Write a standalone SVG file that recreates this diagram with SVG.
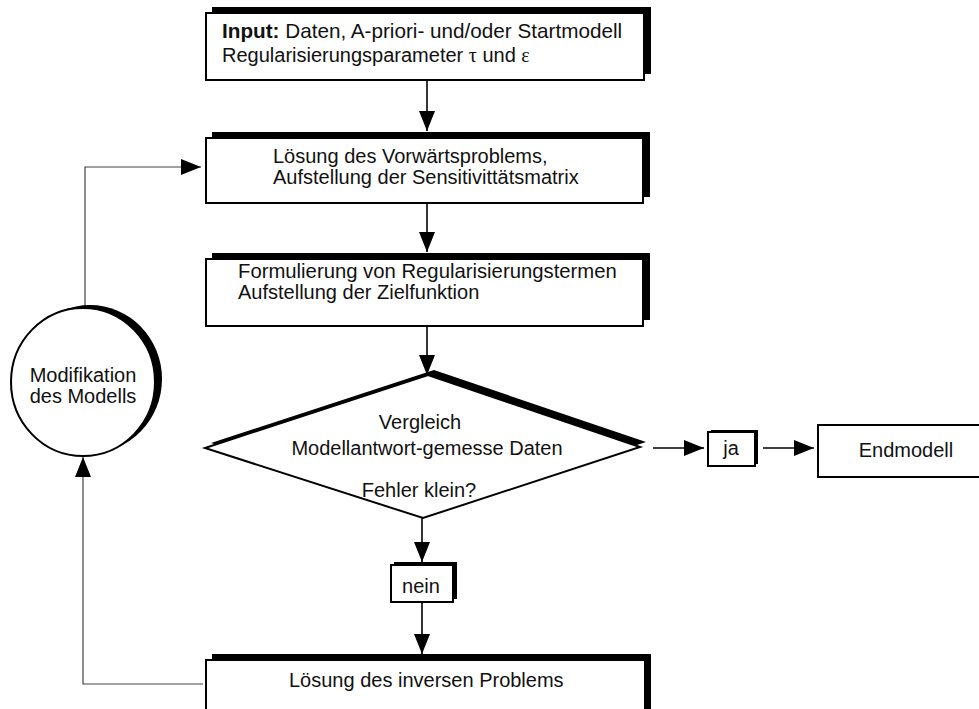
<svg xmlns="http://www.w3.org/2000/svg" width="979" height="709" viewBox="0 0 979 709">
<defs>
<style>
.box{fill:#fff;stroke:#000;stroke-width:2}
.sh{fill:#000}
.t{font-family:"Liberation Sans",Arial,sans-serif;font-size:20px;fill:#111}
.c{text-anchor:middle}
.g{font-family:"Liberation Serif","Times New Roman",serif}
.ar{stroke:#000;stroke-width:1.6;fill:none}
.lp{stroke:#444;stroke-width:1.2;fill:none}
</style>
<marker id="ah" markerUnits="userSpaceOnUse" markerWidth="20" markerHeight="16" refX="20" refY="8" orient="auto" viewBox="0 0 20 16">
<path d="M0,0 L20,8 L0,16 z" fill="#000"/>
</marker>
</defs>
<rect width="979" height="709" fill="#fff"/>

<g id="connectors">
<line class="ar" x1="427" y1="80" x2="427" y2="131" marker-end="url(#ah)"/>
<line class="ar" x1="427" y1="203" x2="427" y2="252" marker-end="url(#ah)"/>
<line class="ar" x1="427" y1="326" x2="427" y2="375" marker-end="url(#ah)"/>
<line class="ar" x1="422" y1="518" x2="422" y2="562" marker-end="url(#ah)"/>
<line class="ar" x1="422" y1="602" x2="422" y2="654" marker-end="url(#ah)"/>
<line class="ar" x1="653" y1="448" x2="704" y2="448" marker-end="url(#ah)"/>
<line class="ar" x1="763" y1="448" x2="814" y2="448" marker-end="url(#ah)"/>
<polyline class="lp" points="85,308 85,167 201,167" marker-end="url(#ah)"/>
<polyline class="lp" points="203,684 83,684 83,457" marker-end="url(#ah)"/>
</g>

<g id="input">
<rect class="sh" x="212" y="7" width="439" height="67"/>
<rect class="box" x="206" y="13" width="438" height="67"/>
<text class="t" x="222" y="38" style="font-size:20.7px"><tspan font-weight="bold">Input:</tspan> Daten, A-priori- und/oder Startmodell</text>
<text class="t" x="222" y="62">Regularisierungsparameter <tspan class="g">τ</tspan> und <tspan class="g">ε</tspan></text>
</g>

<g id="vorwaerts">
<rect class="sh" x="212" y="132" width="438" height="65"/>
<rect class="box" x="206" y="138" width="437" height="65"/>
<text class="t" x="273" y="163">Lösung des Vorwärtsproblems,</text>
<text class="t" x="273" y="184">Aufstellung der Sensitivittätsmatrix</text>
</g>

<g id="zielfunktion">
<rect class="sh" x="212" y="253" width="438" height="67"/>
<rect class="box" x="206" y="259" width="437" height="67"/>
<text class="t" x="238" y="278" style="font-size:20.3px">Formulierung von Regularisierungstermen</text>
<text class="t" x="238" y="299">Aufstellung der Zielfunktion</text>
</g>

<g id="vergleich">
<polygon class="sh" points="434,370 646,442 429,513 211,443"/>
<polygon class="box" points="428,375 640,447 423,518 205,448"/>
<text class="t c" x="420" y="429">Vergleich</text>
<text class="t c" x="427" y="455">Modellantwort-gemesse Daten</text>
<text class="t c" x="419" y="497">Fehler klein?</text>
</g>

<g id="ja">
<rect class="sh" x="711" y="430" width="47" height="34"/>
<rect class="box" x="708" y="432" width="47" height="34" stroke-width="1.5"/>
<text class="t c" x="731" y="455">ja</text>
</g>

<g id="endmodell">
<rect class="box" x="818" y="425" width="175" height="52" stroke-width="1.6"/>
<text class="t c" x="906" y="457">Endmodell</text>
</g>

<g id="nein">
<rect class="sh" x="394" y="562" width="63" height="37"/>
<rect class="box" x="391" y="565" width="62" height="37" stroke-width="1.5"/>
<text class="t c" x="421" y="593">nein</text>
</g>

<g id="invers">
<rect class="sh" x="212" y="654" width="439" height="70"/>
<rect class="box" x="206" y="660" width="439" height="70"/>
<text class="t" x="289" y="687">Lösung des inversen Problems</text>
</g>

<g id="modifikation">
<ellipse class="sh" cx="90" cy="379" rx="72" ry="74"/>
<ellipse class="box" cx="83" cy="382" rx="72" ry="74" stroke-width="1.6"/>
<text class="t c" x="83" y="382">Modifikation</text>
<text class="t c" x="83" y="403">des Modells</text>
</g>
</svg>
